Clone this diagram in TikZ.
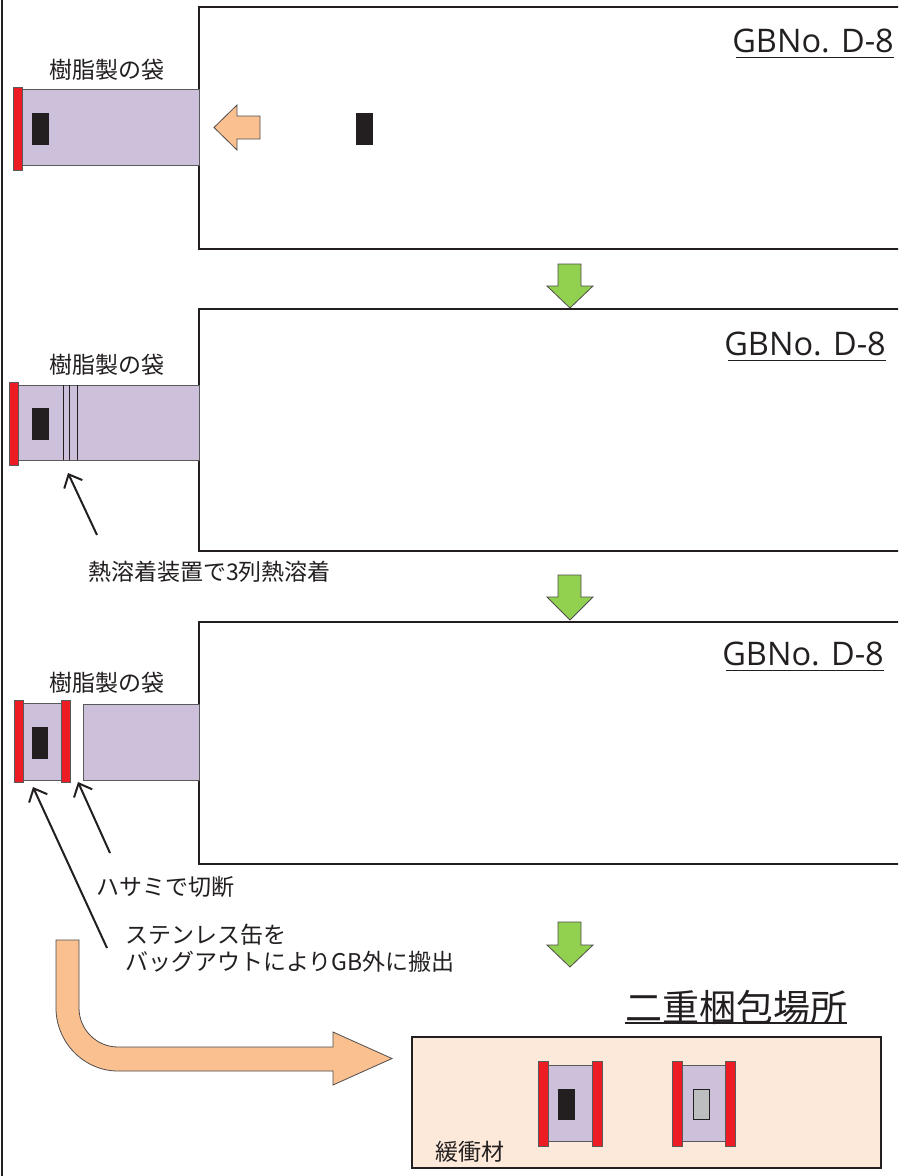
\documentclass[tikz,border=0pt]{standalone}
\usepackage{fontspec}
\newfontfamily\jp{Noto Sans CJK JP}
\newfontfamily\lat{Open Sans}
\usetikzlibrary{arrows.meta}
\definecolor{ink}{HTML}{231F20}
\definecolor{bagc}{HTML}{CCC0DA}
\definecolor{redc}{HTML}{ED1C24}
\definecolor{orac}{HTML}{FAC090}
\definecolor{grnc}{HTML}{92D050}
\definecolor{peach}{HTML}{FDE9D9}
\definecolor{grayc}{HTML}{BCBEC0}
\definecolor{edge}{HTML}{58595B}
\tikzset{
  gbbox/.style={draw=ink, line width=1.6pt, fill=white},
  bag/.style={draw=edge, line width=0.8pt, fill=bagc},
  redbar/.style={draw=edge, line width=0.6pt, fill=redc},
  blk/.style={fill=ink, draw=ink, line width=0.4pt},
  greyblk/.style={fill=grayc, draw=ink, line width=0.8pt},
  grnarrow/.style={fill=grnc, draw=ink!80, line width=0.8pt},
  oraarrow/.style={fill=orac, draw=ink!80, line width=0.8pt},
  jplabel/.style={font=\jp\fontsize{23}{27}\selectfont, text=ink, inner sep=0pt},
  gblabel/.style={font=\lat\fontsize{32.5}{36}\selectfont, text=ink, inner sep=0pt, anchor=base east},
  uline/.style={draw=ink, line width=1.4pt},
  pointer/.style={draw=ink, line width=2pt, -{Straight Barb[length=11pt,width=20pt]}}
}
\begin{document}
\begin{tikzpicture}[x=1pt,y=-1pt]
\useasboundingbox (0,0) rectangle (898,1176);
\clip (0,0) rectangle (898,1176);
\fill[white] (0,0) rectangle (898,1176);

% left border line
\draw[ink, line width=1.6pt] (2,-2) -- (2,1180);

% ---------- Row 1 ----------
\draw[gbbox] (199,7) rectangle (905,249);
\node[gblabel] (gb1) at (894,52) {GBNo. D-8};
\draw[uline] (736,57.5) -- (894,57.5);
\draw[bag] (22,89) rectangle (199,165);
\draw[redbar] (13,87) rectangle (22,170);
\draw[blk] (32,113) rectangle (48,144);
\draw[blk] (356,113) rectangle (372,144);
\draw[oraarrow] (260,116) -- (237,116) -- (237,105) -- (214,127.5) -- (237,150) -- (237,139) -- (260,139) -- cycle;
\node[jplabel] (bag1) at (107,70) {樹脂製の袋};

% green arrow 1
\draw[grnarrow] (558,264) -- (581,264) -- (581,286) -- (593,286) -- (570,308) -- (547,286) -- (558,286) -- cycle;

% ---------- Row 2 ----------
\draw[gbbox] (199,309) rectangle (905,551);
\node[gblabel] (gb2) at (886,355) {GBNo. D-8};
\draw[uline] (728,360.5) -- (886,360.5);
\draw[bag] (18,385) rectangle (199,460);
\draw[redbar] (9,382) rectangle (18,465);
\draw[blk] (32,408) rectangle (48,439);
\draw[ink, line width=1pt] (63,385) -- (63,460) (69,385) -- (69,460) (77,385) -- (77,460);
\node[jplabel] (bag2) at (107,365) {樹脂製の袋};
\coordinate (seal) at (68,473);
\coordinate (sealfrom) at (97,535);
\draw[pointer] (sealfrom) -- (seal);
\node[jplabel, anchor=west] (sealtxt) at (88,572) {熱溶着装置で3列熱溶着};

% green arrow 2
\draw[grnarrow] (558,575) -- (581,575) -- (581,597) -- (593,597) -- (570,620) -- (547,597) -- (558,597) -- cycle;

% ---------- Row 3 ----------
\draw[gbbox] (199,622) rectangle (905,864);
\node[gblabel] (gb3) at (884,665) {GBNo. D-8};
\draw[uline] (726,670.5) -- (884,670.5);
\draw[bag] (23,703) rectangle (61,780);
\draw[redbar] (14,700) rectangle (23,782);
\draw[redbar] (61,700) rectangle (70,782);
\draw[blk] (32,727) rectangle (47,758);
\draw[bag] (83,704) rectangle (199,780);
\node[jplabel] (bag3) at (107,683) {樹脂製の袋};
\coordinate (cutA) at (33,787);
\coordinate (cutAfrom) at (107,948);
\coordinate (cutB) at (78,782);
\coordinate (cutBfrom) at (110,853);
\draw[pointer] (cutAfrom) -- (cutA);
\draw[pointer] (cutBfrom) -- (cutB);
\node[jplabel, anchor=west] (cuttxt) at (96,887) {ハサミで切断};
\node[jplabel, anchor=west, align=left] (outtxt) at (125,948.5) {ステンレス缶を\\バッグアウトによりGB外に搬出};

% green arrow 3
\draw[grnarrow] (558,922) -- (581,922) -- (581,945) -- (593,945) -- (570,967) -- (547,945) -- (558,945) -- cycle;

% bent orange arrow
\draw[oraarrow] (56,940) -- (79,940) -- (79,1008)
  .. controls (79,1029.5) and (96.5,1047) .. (118,1047)
  -- (333,1047) -- (333,1032) -- (392,1058.5) -- (333,1085) -- (333,1071) -- (118,1071)
  .. controls (83.8,1071) and (56,1042.2) .. (56,1008) -- cycle;

% ---------- Double packing place ----------
\node[font=\jp\fontsize{37}{40}\selectfont, text=ink, inner sep=0pt] (place) at (736,1007) {二重梱包場所};
\draw[uline] (625,1023) -- (847,1023);
\draw[draw=ink, line width=1.4pt, fill=peach] (412,1037) rectangle (881,1168);
\node[jplabel, anchor=west] (cushion) at (435,1152) {緩衝材};
% can 1
\draw[bag] (548,1065) rectangle (592,1141);
\draw[redbar] (538,1061) rectangle (548,1146);
\draw[redbar] (592,1061) rectangle (602,1146);
\draw[blk] (558,1089) rectangle (574,1119);
% can 2
\draw[bag] (682,1065) rectangle (725,1141);
\draw[redbar] (672,1061) rectangle (682,1146);
\draw[redbar] (725,1061) rectangle (735,1146);
\draw[greyblk] (693,1089) rectangle (709,1119);
\end{tikzpicture}
\end{document}
